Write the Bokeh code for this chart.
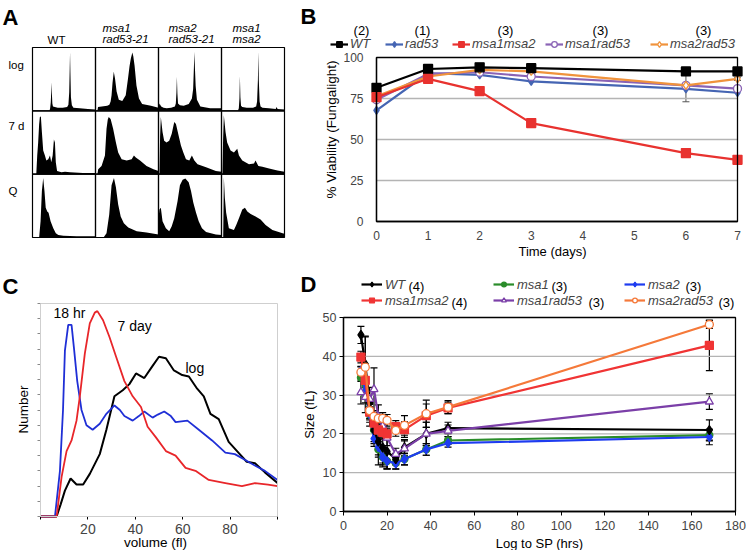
import math
import numpy as np
from bokeh.plotting import figure
from bokeh.layouts import row, column
from bokeh.models import (Range1d, Label, Legend, LegendItem, FixedTicker,
                          Whisker, ColumnDataSource, TeeHead, BoxAnnotation)
from bokeh.embed import file_html
from bokeh.resources import INLINE

FONT = "Liberation Sans"

# ---------------- Panel A data (DNA content histograms, % of box height) ----------------
a_col_titles = [["WT"], ["msa1", "rad53-21"], ["msa2", "rad53-21"], ["msa1", "msa2"]]
a_row_titles = ["log", "7 d", "Q"]

wt_log_x = [0, 27, 28, 29, 29.7, 30.2, 30.8, 31.5, 32.5, 40, 48, 55, 57, 58.3, 59.1, 59.6, 60.2, 61, 62.5, 65, 75, 88, 100]
wt_log_y = [0, 0, 4, 14, 30, 46, 28, 12, 7, 5, 5, 6, 10, 30, 70, 94, 60, 22, 9, 5, 4, 3, 2]
m1r_log_x = [0, 3, 4, 10, 18.6, 22, 24, 25.5, 27, 29, 31, 33.5, 37, 42.5, 48, 51.6, 54, 56, 58.5, 60, 62, 65, 69, 74, 88, 100]
m1r_log_y = [0, 0, 6, 7, 8, 10, 15, 25, 45, 63, 52, 31, 18, 16, 25, 52, 72, 84, 94, 88, 73, 41, 20, 11, 8, 5]
m2r_log_x = [0, 1.6, 4.3, 8, 13, 20, 26, 27.5, 28.5, 29.2, 30, 31, 34, 40, 48, 53, 55, 56.2, 57, 57.8, 59, 61, 66.5, 82, 100]
m2r_log_y = [5, 12, 7, 5, 4, 5, 7, 12, 30, 55, 28, 12, 9, 8, 11, 20, 35, 70, 95, 70, 40, 18, 7, 4, 4]
mm_log_x = [0, 26, 27.5, 28.5, 29.2, 30, 31, 33, 40, 50, 55, 56.5, 57.8, 58.5, 59.2, 60.5, 62, 65, 75, 86, 87.5, 89, 100]
mm_log_y = [0, 0, 4, 20, 56, 22, 8, 6, 5, 5, 7, 15, 50, 95, 50, 15, 7, 5, 4, 3, 6, 3, 2]

wt_7d_x = [0, 6, 7.5, 9, 10.5, 11.7, 13.3, 14.9, 17, 19.7, 22, 25, 27.7, 29.8, 32, 34, 35.6, 37, 39, 46, 51.6, 59.6, 80, 100]
wt_7d_y = [0, 0, 30, 51, 80, 92, 93, 68, 38, 30, 22, 24, 30, 19, 30, 56, 51, 19, 5, 3, 4, 3, 2, 2]
m1r_7d_x = [0, 3, 4.3, 9.6, 15, 17.5, 19.5, 21, 24, 28, 32.4, 36, 41.5, 49.5, 57.4, 61, 64, 70.7, 81, 92, 100]
m1r_7d_y = [0, 0, 8, 13, 30, 73, 88, 92, 89, 73, 51, 35, 24, 22, 24, 30, 27, 22, 13, 8, 5]
m2r_7d_x = [0, 1.5, 2.5, 3.7, 6.4, 9, 12.8, 17, 21, 25, 27.7, 32, 35.6, 39.4, 43.6, 48.9, 53, 56.9, 62, 75.5, 91, 100]
m2r_7d_y = [0, 0, 60, 92, 68, 54, 51, 54, 65, 84, 81, 62, 46, 35, 24, 22, 30, 22, 16, 11, 5, 4]
mm_7d_x = [0, 1.5, 2.5, 3.7, 6.4, 9, 14.4, 19.7, 25, 27.7, 33, 43.6, 51.6, 54, 58.5, 64.9, 75.5, 88.8, 100]
mm_7d_y = [0, 0, 55, 95, 68, 51, 38, 35, 41, 30, 22, 16, 17, 22, 13, 12, 9, 6, 4]

wt_q_x = [0, 10, 10.6, 12.8, 14.9, 17, 19, 21, 23.4, 25.5, 28.7, 33, 37, 41, 49, 70, 100]
wt_q_y = [0, 0, 1, 26, 75, 96, 75, 48, 42, 40, 26, 15, 7, 4, 3, 2, 2]
m1r_q_x = [0, 12, 13.3, 17.5, 21.8, 25.5, 29.3, 32.4, 36, 40, 45, 52, 65.4, 81, 100]
m1r_q_y = [0, 0, 1, 7, 37, 84, 96, 81, 53, 34, 23, 16, 10, 8, 5]
m2r_q_x = [0, 1.5, 3.7, 6.4, 11.7, 17, 21, 25, 30.3, 34, 38.3, 42.6, 47.9, 51.6, 55.3, 59.6, 63.8, 69, 75.5, 91, 100]
m2r_q_y = [30, 45, 48, 26, 15, 10, 18, 31, 59, 84, 93, 95, 89, 75, 56, 40, 26, 15, 9, 5, 4]
mm_q_x = [0, 2.7, 3.7, 5.3, 7.4, 11.7, 19.7, 23.4, 27.7, 33, 37.2, 41, 46.3, 54, 62, 70, 80.8, 97, 100]
mm_q_y = [0, 0, 97, 64, 40, 15, 12, 20, 31, 45, 48, 42, 38, 34, 29, 20, 12, 7, 6]

a_hists = [
    [(wt_log_x, wt_log_y), (m1r_log_x, m1r_log_y), (m2r_log_x, m2r_log_y), (mm_log_x, mm_log_y)],
    [(wt_7d_x, wt_7d_y), (m1r_7d_x, m1r_7d_y), (m2r_7d_x, m2r_7d_y), (mm_7d_x, mm_7d_y)],
    [(wt_q_x, wt_q_y), (m1r_q_x, m1r_q_y), (m2r_q_x, m2r_q_y), (mm_q_x, mm_q_y)],
]

# ---------------- Panel B data ----------------
b_days = [0, 1, 2, 3, 6, 7]
b_names = ["WT", "rad53", "msa1msa2", "msa1rad53", "msa2rad53"]
b_counts = ["(2)", "(1)", "(3)", "(3)", "(3)"]
b_wt = [81.5, 93, 94, 93.5, 91.5, 91.5]
b_rad53 = [67.7, 90.4, 89.4, 85.4, 80.9, 78.5]
b_msa1msa2 = [75.8, 87, 79.5, 60, 41.7, 37.6]
b_msa1rad53 = [74.2, 90, 91, 88.4, 83, 81]
b_msa2rad53 = [76.4, 88.4, 92.5, 91.5, 83, 87]
b_wt_err = [1, 0.5, 0.5, 0.5, 1, 0.5]
b_rad53_err = [0, 0, 0, 0, 0, 0]
b_msa1msa2_err = [1, 1, 1.5, 2, 2.5, 2.5]
b_msa1rad53_err = [1, 1, 1, 1, 1, 1]
b_msa2rad53_err = [1, 1, 1, 1, 10, 1]
b_yticks = [0, 25, 50, 75, 100]
b_xticks = [0, 1, 2, 3, 4, 5, 6, 7]
b_grid = [25, 50, 75]

# ---------------- Panel C data ----------------
c_log_x = [0, 6.8, 8.5, 10.3, 12.7, 15.2, 18, 20.8, 25, 27.8, 31.2, 34.7, 37.5, 40.3, 43.8, 47.3, 50, 52.9, 56.3, 59.8, 62.6, 66.1, 68.9, 71.7, 75.2, 79.4, 83.5, 87, 90.5, 94.7, 100]
c_log_y = [0, 0, 0.8, 1.7, 2.5, 2.1, 2.1, 2.8, 4.1, 5.7, 7.9, 8.3, 8.7, 9.4, 9.1, 9.9, 10.5, 10.4, 9.6, 9.3, 9.2, 8.4, 7.9, 6.75, 6.4, 4.9, 4.2, 3.6, 3.5, 2.9, 2.2]
c_18h_x = [0, 6.1, 8.2, 9.5, 10.3, 11.7, 13.1, 14.1, 15.5, 17.3, 19.4, 22, 25, 27.8, 31.2, 33.5, 35.4, 38.9, 41.5, 43.8, 47.3, 49.5, 52.2, 55, 57, 62, 66.8, 72.4, 78, 82, 87.7, 91, 94.7, 100]
c_18h_y = [0, 0, 3.0, 7, 10.9, 12.6, 12.6, 11.1, 8.9, 7.0, 6.0, 5.7, 6.1, 6.75, 7.3, 7.0, 6.6, 6.3, 6.6, 6.9, 6.5, 6.7, 6.9, 6.6, 6.2, 6.3, 5.7, 5.0, 4.2, 4.1, 3.6, 3.3, 3.0, 2.4]
c_7d_x = [0, 6.8, 8.9, 11, 13.1, 15.2, 16.6, 18.7, 20.8, 22.9, 24, 26.4, 29.1, 31.9, 35.4, 38.9, 42.4, 45.2, 48.7, 52.9, 57, 61.2, 65.4, 71, 78, 85, 90.5, 96, 100]
c_7d_y = [0, 0, 2.6, 4.3, 5.0, 6.3, 7.9, 10.7, 12.7, 13.4, 13.5, 12.9, 11.8, 10.5, 8.9, 7.9, 7.2, 5.9, 5.2, 4.3, 4.0, 3.2, 3.0, 2.4, 2.2, 2.0, 2.2, 2.1, 2.0]
c_curve_labels = ["18 hr", "7 day", "log"]
c_xticks = [20, 40, 60, 80]
c_xminor = [0, 100]
c_yminor = list(range(15))

# ---------------- Panel D data ----------------
d_hours = [8, 10, 12, 14, 16, 18, 20, 24, 28, 38, 48, 168]
d_names = ["WT", "msa1", "msa2", "msa1msa2", "msa1rad53", "msa2rad53"]
d_counts = ["(4)", "(3)", "(3)", "(4)", "(3)", "(3)"]
d_wt = [45.5, 38, 28, 21, 18, 16.5, 15.5, 13.5, 16.5, 20, 21.5, 21]
d_msa1 = [34.5, 30, 25, 21, 16, 14, 13, 12.5, 13.5, 16, 18.3, 19.7]
d_msa2 = [36.3, 31, 25, 18.8, 16.6, 14, 13, 12.4, 13.5, 16, 17.6, 19.2]
d_msa1msa2 = [39.8, 33.8, 25.6, 22.8, 21, 20.4, 20, 21.9, 21.1, 24.7, 26.7, 42.8]
d_msa1rad53 = [30.7, 29.5, 29, 31.5, 24.5, 22, 19, 14.8, 16.2, 20, 20.8, 28.3]
d_msa2rad53 = [35.9, 37.2, 26, 24.5, 24, 24, 23.5, 20.9, 22.2, 25.2, 26.9, 48.2]
d_wt_err = [2.2, 7, 3, 3.5, 4, 4, 4.5, 1.5, 2, 3, 1.5, 2.6]
d_msa1_err = [1, 2, 3, 3, 4, 2.5, 2, 1.5, 1.5, 1.5, 1, 1.5]
d_msa2_err = [1, 2, 2, 2, 2, 2, 2, 1.5, 1.5, 1.5, 1, 2]
d_msa1msa2_err = [1.5, 3, 2, 2, 2, 1.5, 1.5, 1.5, 2, 3, 1.5, 6.5]
d_msa1rad53_err = [3, 4, 3, 5.5, 3, 2.5, 2, 1.5, 2, 3, 1.5, 2]
d_msa2rad53_err = [1.5, 8, 2, 1.5, 1.5, 1.5, 1.5, 1.5, 2.5, 3.5, 1.7, 1]
d_xticks = [0, 20, 40, 60, 80, 100, 120, 140, 160, 180]
d_yticks = [0, 10, 20, 30, 40, 50]
d_grid = [10, 20, 30, 40]


class Panel:
    """A figure whose frame is the whole canvas; the data box sits at given pixels."""

    def __init__(self, fig_box, px_box, data_box):
        self.X0, self.X1, self.Y0, self.Y1 = fig_box
        self.L, self.R, self.T, self.B = px_box
        self.xa, self.xb, self.ya, self.yb = data_box

    def x(self, px):
        return self.xa + (px - self.L) * (self.xb - self.xa) / (self.R - self.L)

    def y(self, py):
        return self.ya + (self.B - py) * (self.yb - self.ya) / (self.B - self.T)

    def make(self):
        p = figure(width=self.X1 - self.X0, height=self.Y1 - self.Y0,
                   x_range=Range1d(self.x(self.X0), self.x(self.X1)),
                   y_range=Range1d(self.y(self.Y1), self.y(self.Y0)),
                   output_backend="svg", toolbar_location=None,
                   min_border_left=0, min_border_right=0, min_border_top=0, min_border_bottom=0)
        p.background_fill_color = "white"
        p.border_fill_color = "white"
        p.outline_line_color = None
        p.xgrid.visible = False
        p.ygrid.visible = False
        for ax in p.axis:
            ax.major_label_text_font = FONT
            ax.minor_tick_line_color = None
            ax.axis_line_color = "black"
            ax.major_tick_line_color = "black"
        self.p = p
        return p

    def label(self, px, py, text, size, style="normal", align="left", baseline="middle", angle=0.0):
        self.p.add_layout(Label(x=self.x(px), y=self.y(py), text=text, text_font=FONT,
                                text_font_size=size, text_font_style=style, text_align=align,
                                text_baseline=baseline, angle=angle, text_color="black"))

    def legend(self, name, renderers, glyph_left_px, center_py, glyph_w, size, standoff, h):
        leg = Legend(items=[LegendItem(label=name, renderers=renderers)],
                     location=(glyph_left_px - self.X0, self.Y1 - (center_py + h / 2)),
                     orientation="horizontal", label_text_font=FONT,
                     label_text_font_style="italic", label_text_font_size=size,
                     glyph_width=glyph_w, glyph_height=h, label_height=h,
                     label_standoff=standoff, padding=0, margin=0,
                     border_line_alpha=0, background_fill_alpha=0)
        self.p.add_layout(leg)


def setup_axes(p, xfix, yfix, xb, yb, xticks, yticks):
    p.xaxis.fixed_location = xfix
    p.yaxis.fixed_location = yfix
    p.xaxis.bounds = xb
    p.yaxis.bounds = yb
    p.xaxis.ticker = xticks
    p.yaxis.ticker = yticks


# ================= Panel A =================
PA = Panel((0, 298, 0, 265), (32, 284, 47, 237), (0, 400, 0, 300))
pA = PA.make()
pA.xaxis.visible = False
pA.yaxis.visible = False
for r, hist_row in enumerate(a_hists):
    for c, (hx, hy) in enumerate(hist_row):
        base = (2 - r) * 100
        pA.varea(x=np.array(hx) + c * 100, y1=base, y2=base + np.array(hy) * 0.98,
                 fill_color="black")
cell_x = [c * 100 + 50 for r in range(3) for c in range(4)]
cell_y = [r * 100 + 50 for r in range(3) for c in range(4)]
pA.rect(x=cell_x, y=cell_y, width=100, height=100, fill_color=None,
        line_color="black", line_width=1.2)
PA.label(2, 4, "A", "22px", "bold", baseline="top")
PA.label(56, 39, a_col_titles[0][0], "11.5px", align="center")
for c, lx in zip([1, 2, 3], [102, 168, 232]):
    PA.label(lx, 27, a_col_titles[c][0], "11.5px", "italic")
    PA.label(lx, 38.5, a_col_titles[c][1], "11.5px", "italic")
for rt, ry in zip(a_row_titles, [64, 125, 190]):
    PA.label(8, ry, rt, "11.5px")

# ================= Panel B =================
PB = Panel((298, 746, 0, 265), (376, 737, 57, 221), (0, 7, 0, 100))
pB = PB.make()
setup_axes(pB, 0, 0, (0, 7), (0, 100), FixedTicker(ticks=b_xticks), FixedTicker(ticks=b_yticks))
for ax in pB.axis:
    ax.major_tick_out = 0
    ax.major_tick_in = 0
    ax.major_label_text_font_size = "12px"
    ax.axis_line_width = 1.3
pB.yaxis.major_label_standoff = 13
pB.xaxis.major_label_standoff = 9
pB.segment(x0=0, x1=7, y0=b_grid, y1=b_grid, line_color="#b4b4b4", line_width=1.3)
pB.add_layout(BoxAnnotation(left=0, right=7, bottom=0, top=100, fill_alpha=0,
                            line_color="black", line_width=1.3, line_alpha=1))

b_vals = [b_wt, b_rad53, b_msa1msa2, b_msa1rad53, b_msa2rad53]
b_errs = [b_wt_err, b_rad53_err, b_msa1msa2_err, b_msa1rad53_err, b_msa2rad53_err]
b_style = [("black", "square", 9, "black"),
           ("#4565b3", "diamond", 8, "#4565b3"),
           ("#e8322f", "square", 9, "#e8322f"),
           ("#8a63b5", "circle", 8, "white"),
           ("#f0933c", "diamond", 8, "white")]
b_leg_px = [330, 385, 452, 545, 650]
b_items = {}
for i in [1, 3, 4, 0, 2]:
    col, mk, sz, fill = b_style[i]
    src = ColumnDataSource(dict(x=b_days, y=b_vals[i],
                                lo=[v - e for v, e in zip(b_vals[i], b_errs[i])],
                                hi=[v + e for v, e in zip(b_vals[i], b_errs[i])]))
    if any(e > 0 for e in b_errs[i]):
        pB.add_layout(Whisker(base="x", lower="lo", upper="hi", source=src,
                              line_color="#555555", line_width=1,
                              lower_head=TeeHead(size=7, line_color="#555555", line_width=1),
                              upper_head=TeeHead(size=7, line_color="#555555", line_width=1)))
    rl = pB.line("x", "y", source=src, line_color=col, line_width=2.2)
    rm = pB.scatter("x", "y", source=src, marker=mk, size=sz, line_color=col,
                    fill_color=fill, line_width=1.3)
    b_items[i] = [rl, rm]
for i, name in enumerate(b_names):
    PB.legend(name, b_items[i], b_leg_px[i], 44, 18, "13px", 2, 14)
PB.label(300, 3, "B", "22px", "bold", baseline="top")
for txt, cx in zip(b_counts, [361, 422, 505, 600, 703]):
    PB.label(cx, 30, txt, "13px", align="center")
PB.label(331, 129, "% Viability (Fungalight)", "13.5px", align="center", angle=math.pi / 2)
PB.label(552, 251, "Time (days)", "13px", align="center")

# ================= Panel C =================
PC = Panel((0, 298, 265, 550), (40, 277, 303, 516), (0, 100, 0, 14))
pC = PC.make()
setup_axes(pC, 0, 0, (0, 100), (0, 14),
           FixedTicker(ticks=c_xticks, minor_ticks=c_xminor),
           FixedTicker(ticks=[], minor_ticks=c_yminor))
pC.add_layout(BoxAnnotation(left=0, right=100, bottom=0, top=14, fill_alpha=0,
                            line_color="#cfcfcf", line_width=1, line_alpha=1))
for ax in pC.axis:
    ax.major_tick_out = 3
    ax.major_tick_in = 0
    ax.minor_tick_out = 3
    ax.minor_tick_in = 0
pC.xaxis.minor_tick_line_color = "black"
pC.yaxis.minor_tick_line_color = "#888888"
pC.yaxis.axis_line_color = "#666666"
pC.xaxis.major_label_text_font_size = "14px"
pC.xaxis.major_label_standoff = 4
pC.line(c_log_x, c_log_y, line_color="black", line_width=2)
pC.line(c_18h_x, c_18h_y, line_color="#1f2fd6", line_width=1.8)
pC.line(c_7d_x, c_7d_y, line_color="#e8262a", line_width=1.8)
PC.label(2, 273, "C", "22px", "bold", baseline="top")
for txt, (lx, ly) in zip(c_curve_labels, [(53, 312), (117, 325), (185, 367)]):
    PC.label(lx, ly, txt, "14px")
PC.label(23, 409, "Number", "13.5px", align="center", angle=math.pi / 2)
PC.label(155, 542, "volume (fl)", "13.5px", align="center")

# ================= Panel D =================
PD = Panel((298, 746, 265, 550), (343, 735, 317, 511), (0, 180, 0, 50))
pD = PD.make()
setup_axes(pD, 0, 0, (0, 180), (0, 50), FixedTicker(ticks=d_xticks), FixedTicker(ticks=d_yticks))
for ax in pD.axis:
    ax.major_tick_out = 4
    ax.major_tick_in = 0
    ax.major_label_text_font_size = "12.5px"
    ax.axis_line_width = 1.3
pD.yaxis.major_label_standoff = 3
pD.xaxis.major_label_standoff = 5
pD.segment(x0=0, x1=180, y0=d_grid, y1=d_grid, line_color="#b4b4b4", line_width=1.3)
pD.add_layout(BoxAnnotation(left=0, right=180, bottom=0, top=50, fill_alpha=0,
                            line_color="black", line_width=1.3, line_alpha=1))

d_vals = [d_wt, d_msa1, d_msa2, d_msa1msa2, d_msa1rad53, d_msa2rad53]
d_errs = [d_wt_err, d_msa1_err, d_msa2_err, d_msa1msa2_err, d_msa1rad53_err, d_msa2rad53_err]
d_style = [("black", "diamond", 9, "black"),
           ("#2a8c2a", "circle", 7, "#2a8c2a"),
           ("#1e3cf0", "diamond", 9, "#1e3cf0"),
           ("#f03434", "square", 8, "#f03434"),
           ("#7b3fa8", "triangle", 8, "white"),
           ("#f5793a", "circle", 8, "white")]
d_row1, d_row2 = 285.5, 301.5
d_leg_px = [(361, d_row1), (493, d_row1), (624, d_row1), (361, d_row2), (493, d_row2), (624, d_row2)]
d_cnt_px = [(408, d_row1), (551, d_row1), (685, d_row1), (451, d_row2), (588, d_row2), (718, d_row2)]
d_items = {}
for i in [1, 2, 0, 4, 3, 5]:
    col, mk, sz, fill = d_style[i]
    src = ColumnDataSource(dict(x=d_hours, y=d_vals[i],
                                lo=[v - e for v, e in zip(d_vals[i], d_errs[i])],
                                hi=[v + e for v, e in zip(d_vals[i], d_errs[i])]))
    pD.add_layout(Whisker(base="x", lower="lo", upper="hi", source=src,
                          line_color="black", line_width=1.2,
                          lower_head=TeeHead(size=7, line_color="black", line_width=1.2),
                          upper_head=TeeHead(size=7, line_color="black", line_width=1.2)))
    rl = pD.line("x", "y", source=src, line_color=col, line_width=2.2)
    rm = pD.scatter("x", "y", source=src, marker=mk, size=sz, line_color=col,
                    fill_color=fill, line_width=1.3)
    d_items[i] = [rl, rm]
for i, name in enumerate(d_names):
    PD.legend(name, d_items[i], d_leg_px[i][0], d_leg_px[i][1], 21, "13px", 3, 12)
for txt, (cx, cy) in zip(d_counts, d_cnt_px):
    PD.label(cx, cy, txt, "13px")
PD.label(300, 271, "D", "22px", "bold", baseline="top")
PD.label(309, 414, "Size (fL)", "13px", align="center", angle=math.pi / 2)
PD.label(539, 543, "Log to SP (hrs)", "13px", align="center")

layout = column(row(pA, pB), row(pC, pD))
open("out.html", "w").write(file_html(layout, INLINE))
